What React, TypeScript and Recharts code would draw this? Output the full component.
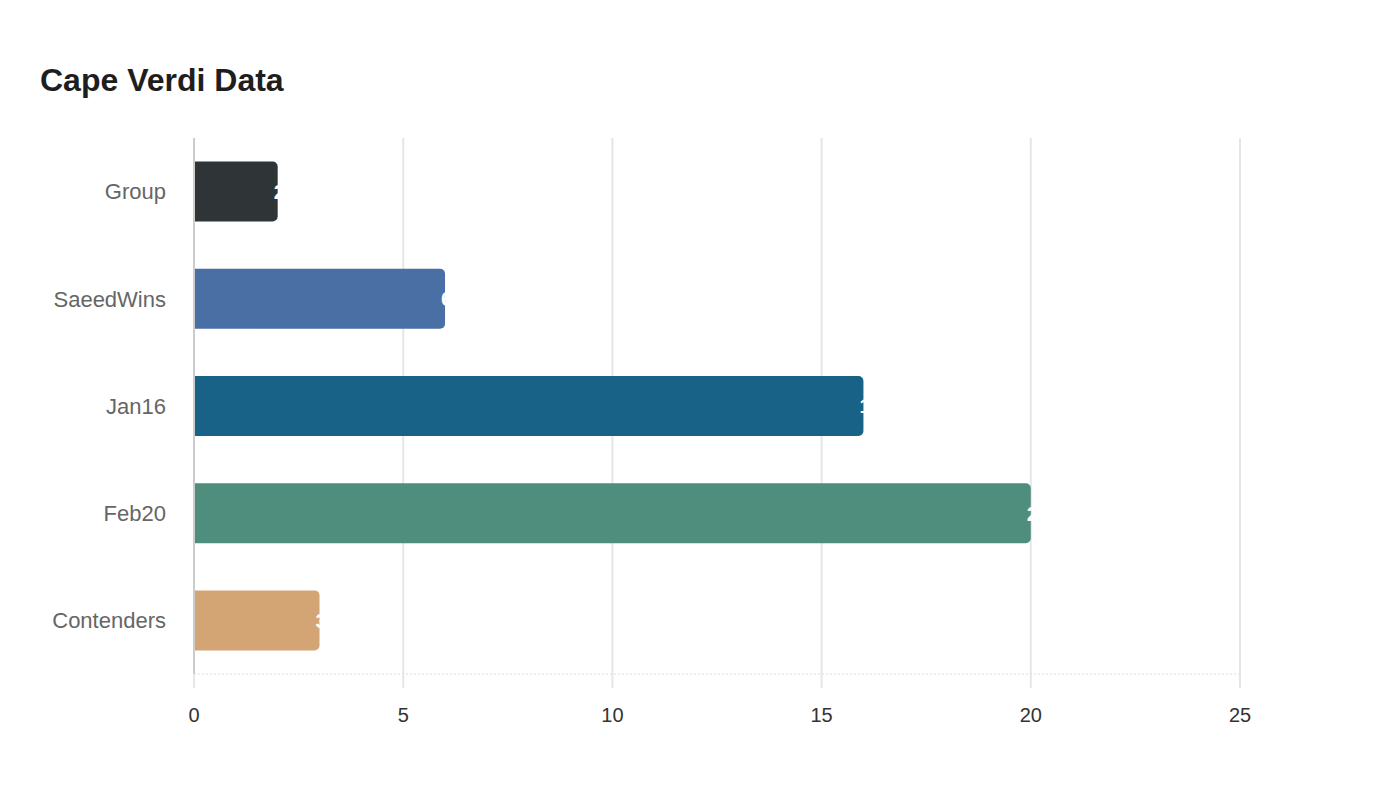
import { BarChart, Bar, XAxis, YAxis, CartesianGrid, Cell, LabelList } from "recharts"

const categories = ["Group", "SaeedWins", "Jan16", "Feb20", "Contenders"]
const values = [2, 6, 16, 20, 3]
const colors = ["#2f3537", "#4a6fa5", "#186288", "#4f8e7c", "#d4a574"]
const xTicks = [0, 5, 10, 15, 20, 25]

const data = categories.map((name, i) => ({ name, value: values[i] }))

// value sits right at the bar end, so most of it is white on white
const EndLabel = (props: any) => {
  const { x, y, width, height, value } = props
  return (
    <text
      x={x + width - 4}
      y={y + height / 2}
      textAnchor="start"
      dominantBaseline="central"
      fill="#ffffff"
      fontSize={21}
      fontWeight="bold"
      fontFamily="Liberation Sans, Arial, sans-serif"
    >
      {value}
    </text>
  )
}

export default function App() {
  return (
    <div
      style={{
        position: "absolute",
        top: 0,
        left: 0,
        width: 1400,
        height: 800,
        background: "#ffffff",
        fontFamily: "Liberation Sans, Arial, sans-serif",
      }}
    >
      <div
        style={{
          position: "absolute",
          left: 40,
          top: 64,
          fontSize: 32,
          lineHeight: "32px",
          fontWeight: "bold",
          color: "#1e1e1e",
        }}
      >
        Cape Verdi Data
      </div>
      <BarChart
        width={1400}
        height={800}
        data={data}
        layout="vertical"
        margin={{ top: 138, right: 160, bottom: 66, left: 0 }}
        barCategoryGap="22%"
      >
        <CartesianGrid horizontal={false} vertical stroke="#e6e6e6" strokeWidth={2} />
        <XAxis
          type="number"
          domain={[0, 25]}
          ticks={xTicks}
          height={60}
          axisLine={{ stroke: "#dddddd", strokeDasharray: "2 2" }}
          tickLine={{ stroke: "#e6e6e6", strokeWidth: 2 }}
          tickSize={14}
          tickMargin={20}
          tick={{ fill: "#333333", fontSize: 20 }}
        />
        <YAxis
          type="category"
          dataKey="name"
          width={194}
          axisLine={{ stroke: "#cccccc", strokeWidth: 2 }}
          tickLine={false}
          tickSize={6}
          tickMargin={22}
          tick={{ fill: "#666666", fontSize: 22 }}
        />
        <Bar dataKey="value" radius={[0, 5, 5, 0]} isAnimationActive={false}>
          {data.map((d, i) => (
            <Cell key={d.name} fill={colors[i]} />
          ))}
          <LabelList dataKey="value" content={EndLabel} />
        </Bar>
      </BarChart>
    </div>
  )
}
